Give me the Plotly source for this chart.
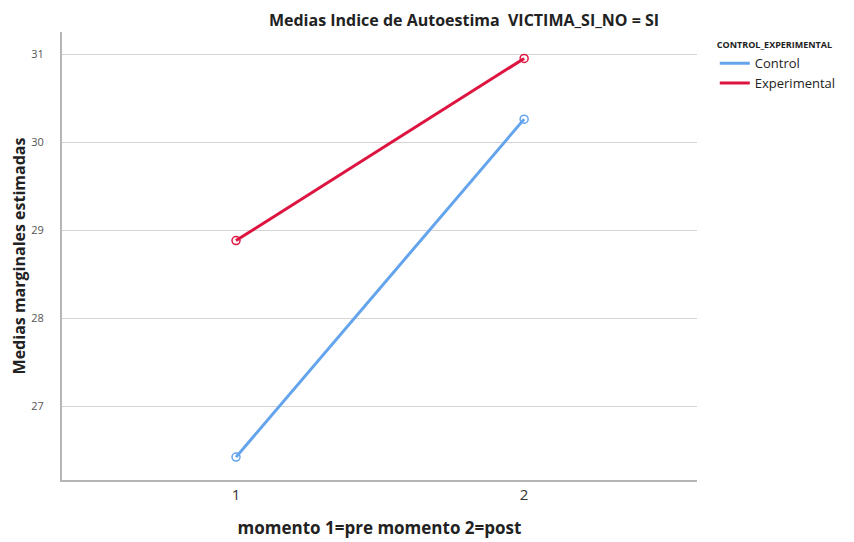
import plotly.graph_objects as go

# estimated marginal means
momento = [1, 2]
control = [26.42, 30.26]
experimental = [28.88, 30.95]
y_ticks = [27, 28, 29, 30, 31]

blue = "#63A4EC"
red = "#DD1440"

fig = go.Figure()

# lines (shown in legend)
fig.add_trace(go.Scatter(x=momento, y=control, mode="lines", name="Control",
                         line=dict(color=blue, width=3)))
fig.add_trace(go.Scatter(x=momento, y=experimental, mode="lines", name="Experimental",
                         line=dict(color=red, width=3)))
# open circle markers, not in legend
fig.add_trace(go.Scatter(x=momento, y=control, mode="markers", showlegend=False,
                         marker=dict(symbol="circle-open", size=8, color=blue, line=dict(width=1.5))))
fig.add_trace(go.Scatter(x=momento, y=experimental, mode="markers", showlegend=False,
                         marker=dict(symbol="circle-open", size=8, color=red, line=dict(width=1.5))))

fig.update_layout(
    width=854, height=542,
    margin=dict(l=54, r=165, t=24, b=70),
    plot_bgcolor="white", paper_bgcolor="white",
    font=dict(family="Open Sans, Liberation Sans, sans-serif", color="#222"),
    title=dict(
        text="<b>Medias Indice de Autoestima  VICTIMA_SI_NO = SI</b>",
        x=0.534, xanchor="center", y=0.977, yanchor="middle",
        font=dict(size=16, color="#222"),
    ),
    legend=dict(
        title=dict(text="<b>CONTROL_EXPERIMENTAL</b>", font=dict(size=9, color="#222")),
        x=1.028, y=0.99, xanchor="left", yanchor="top",
        font=dict(size=13, color="#222"),
        tracegroupgap=0, itemwidth=30,
        bgcolor="rgba(0,0,0,0)",
    ),
    xaxis=dict(
        range=[0.396, 2.6],
        tickvals=momento, ticktext=[str(m) for m in momento],
        showgrid=False, zeroline=False,
        showline=True, linecolor="#b5b5b5", linewidth=2,
        ticks="", tickfont=dict(size=15, color="#333"),
        title=dict(text="<b>momento 1=pre momento 2=post</b>", font=dict(size=17, color="#222"), standoff=19),
    ),
    yaxis=dict(
        range=[26.16, 31.25],
        tickvals=y_ticks,
        showgrid=True, gridcolor="#d4d4d4", gridwidth=1,
        zeroline=False, automargin=False,
        showline=True, linecolor="#b5b5b5", linewidth=2,
        ticks="", tickfont=dict(size=11, color="#555"),
        ticklabelstandoff=14,
        title=dict(text="<b>Medias marginales estimadas</b>", font=dict(size=16, color="#222")),
    ),
)

fig.write_html("out.html")
